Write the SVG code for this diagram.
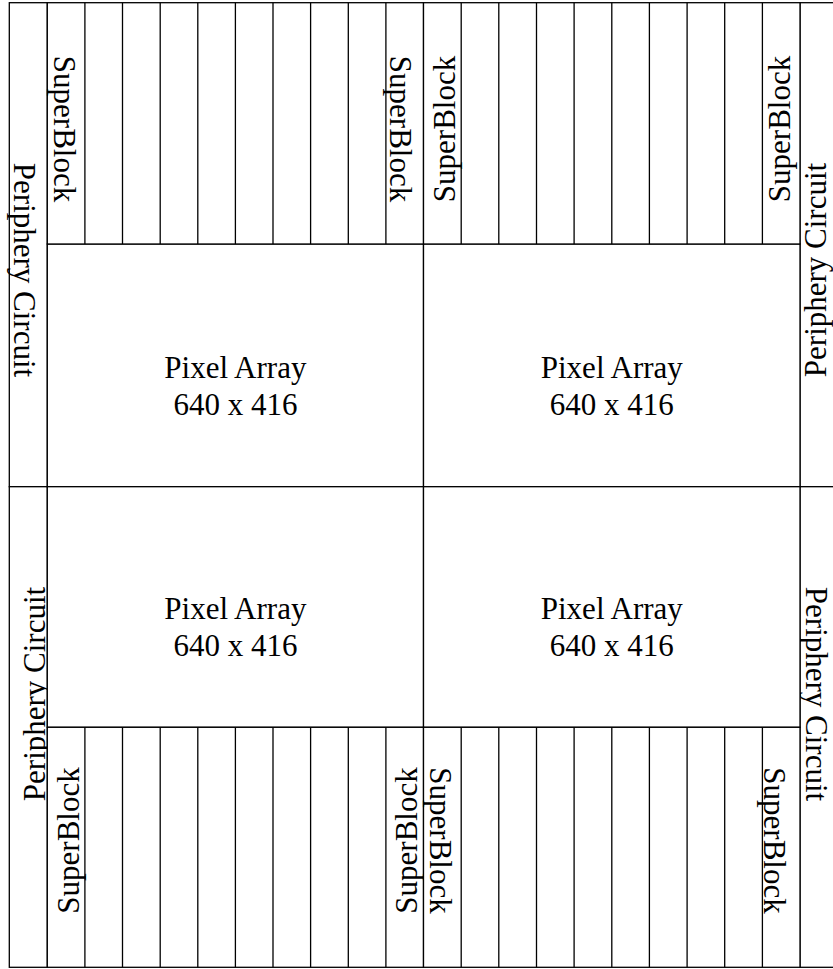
<svg xmlns="http://www.w3.org/2000/svg" width="833" height="969" viewBox="0 0 833 969">
<style>
.b{fill:#fff;stroke:#000;stroke-width:1.3}
.l{stroke:#000;stroke-width:1.3;fill:none}
.t{font-family:"Liberation Serif","Times New Roman",serif;font-size:31px;fill:#000}
.m{text-anchor:middle}
</style>
<rect width="833" height="969" fill="#fff"/>
<g id="periphery-ul"><rect class="b" x="9.3" y="2.7" width="38" height="484"/><text class="t m" transform="translate(13.5,270) rotate(90)">Periphery Circuit</text></g>
<g id="periphery-ll"><rect class="b" x="9.3" y="486.7" width="38" height="480.6"/><text class="t m" transform="translate(45,694) rotate(-90)">Periphery Circuit</text></g>
<g id="periphery-ur"><rect class="b" x="800" y="2.7" width="40" height="484"/><text class="t m" transform="translate(826,270) rotate(-90)">Periphery Circuit</text></g>
<g id="periphery-lr"><rect class="b" x="800" y="486.7" width="40" height="480.6"/><text class="t m" transform="translate(806,694) rotate(90)">Periphery Circuit</text></g>
<g id="pixel-ul"><rect class="b" x="47.3" y="244" width="376.2" height="242.7"/><text class="t m" x="235.4" y="378.3">Pixel Array</text><text class="t m" x="235.4" y="415">640 x 416</text></g>
<g id="pixel-ur"><rect class="b" x="423.5" y="244" width="376.5" height="242.7"/><text class="t m" x="611.8" y="378.3">Pixel Array</text><text class="t m" x="611.8" y="415">640 x 416</text></g>
<g id="pixel-ll"><rect class="b" x="47.3" y="486.7" width="376.2" height="240.6"/><text class="t m" x="235.4" y="619.3">Pixel Array</text><text class="t m" x="235.4" y="656">640 x 416</text></g>
<g id="pixel-lr"><rect class="b" x="423.5" y="486.7" width="376.5" height="240.6"/><text class="t m" x="611.8" y="619.3">Pixel Array</text><text class="t m" x="611.8" y="656">640 x 416</text></g>
<g id="superblocks-ul"><rect class="b" x="47.3" y="2.7" width="376.2" height="241.3"/>
<path class="l" d="M84.9 2.7V244M122.5 2.7V244M160.2 2.7V244M197.8 2.7V244M235.4 2.7V244M273 2.7V244M310.6 2.7V244M348.3 2.7V244M385.9 2.7V244"/>
<text class="t m" transform="translate(54,129) rotate(90)">SuperBlock</text>
<text class="t m" transform="translate(390,129) rotate(90)">SuperBlock</text></g>
<g id="superblocks-ur"><rect class="b" x="423.5" y="2.7" width="376.5" height="241.3"/>
<path class="l" d="M461.2 2.7V244M498.8 2.7V244M536.5 2.7V244M574.1 2.7V244M611.8 2.7V244M649.4 2.7V244M687.1 2.7V244M724.7 2.7V244M762.4 2.7V244"/>
<text class="t m" transform="translate(455,129) rotate(-90)">SuperBlock</text>
<text class="t m" transform="translate(790,129) rotate(-90)">SuperBlock</text></g>
<g id="superblocks-ll"><rect class="b" x="47.3" y="727.3" width="376.2" height="240"/>
<path class="l" d="M84.9 727.3V967.3M122.5 727.3V967.3M160.2 727.3V967.3M197.8 727.3V967.3M235.4 727.3V967.3M273 727.3V967.3M310.6 727.3V967.3M348.3 727.3V967.3M385.9 727.3V967.3"/>
<text class="t m" transform="translate(79,840.5) rotate(-90)">SuperBlock</text>
<text class="t m" transform="translate(417,840.5) rotate(-90)">SuperBlock</text></g>
<g id="superblocks-lr"><rect class="b" x="423.5" y="727.3" width="376.5" height="240"/>
<path class="l" d="M461.2 727.3V967.3M498.8 727.3V967.3M536.5 727.3V967.3M574.1 727.3V967.3M611.8 727.3V967.3M649.4 727.3V967.3M687.1 727.3V967.3M724.7 727.3V967.3M762.4 727.3V967.3"/>
<text class="t m" transform="translate(430,840.5) rotate(90)">SuperBlock</text>
<text class="t m" transform="translate(764,840.5) rotate(90)">SuperBlock</text></g>
<g id="connectors"></g>
</svg>
